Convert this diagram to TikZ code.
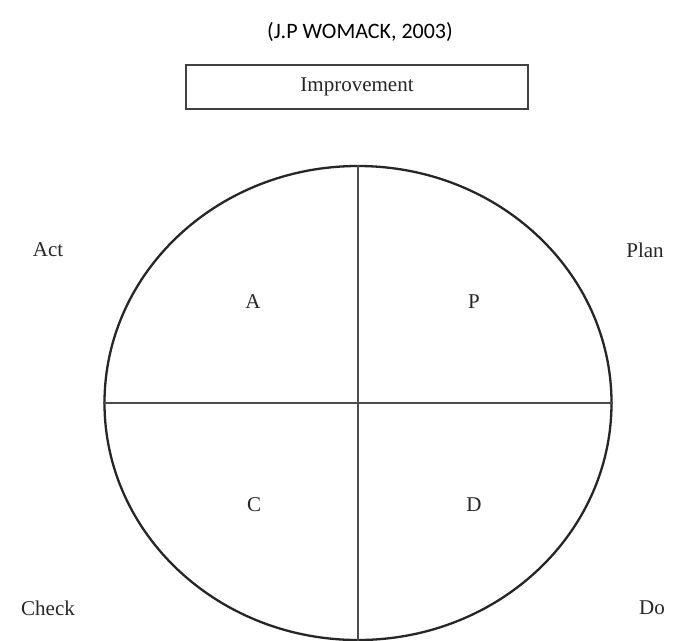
\documentclass[tikz,border=0pt]{standalone}
\usepackage{fontspec}
\setmainfont{Liberation Serif}
\newfontfamily\titlefont{Carlito}
\usetikzlibrary{shapes.geometric}
\tikzset{
  lbl/.style={font=\fontsize{21}{23}\selectfont, text=black!85},
  quad/.style={font=\fontsize{21}{23}\selectfont, text=black!85},
  ring/.style={draw=black!85, line width=2.3pt, ellipse, inner sep=0pt},
  axis/.style={draw=black!70, line width=2pt},
  banner/.style={draw=black!75, line width=1.4pt, inner sep=0pt,
    font=\fontsize{21}{23}\selectfont, text=black!85}
}
\begin{document}
\begin{tikzpicture}[x=1pt,y=-1pt]
\useasboundingbox (0,0) rectangle (687,640);
\fill[white] (0,0) rectangle (687,640);

% citation line
\node[font=\titlefont\fontsize{22}{26}\selectfont] (title) at (360,32) {(J.P WOMACK, 2003)};

% improvement banner
\node[banner, minimum width=342pt, minimum height=44pt] (imp) at (357,87) {Improvement};

% PDCA wheel
\node[ring, minimum width=507pt, minimum height=474pt] (wheel) at (358,403) {};
\draw[axis] (wheel.north) -- (wheel.south);
\draw[axis] (wheel.west) -- (wheel.east);

% quadrant letters
\node[quad] (qa) at (253,302) {A};
\node[quad] (qp) at (474,302) {P};
\node[quad] (qc) at (254,505) {C};
\node[quad] (qd) at (474,505) {D};

% stage names
\node[lbl] (act) at (48,250) {Act};
\node[lbl] (plan) at (645,250) {Plan};
\node[lbl] (check) at (48,608) {Check};
\node[lbl] (do) at (652,608) {Do};
\end{tikzpicture}
\end{document}
